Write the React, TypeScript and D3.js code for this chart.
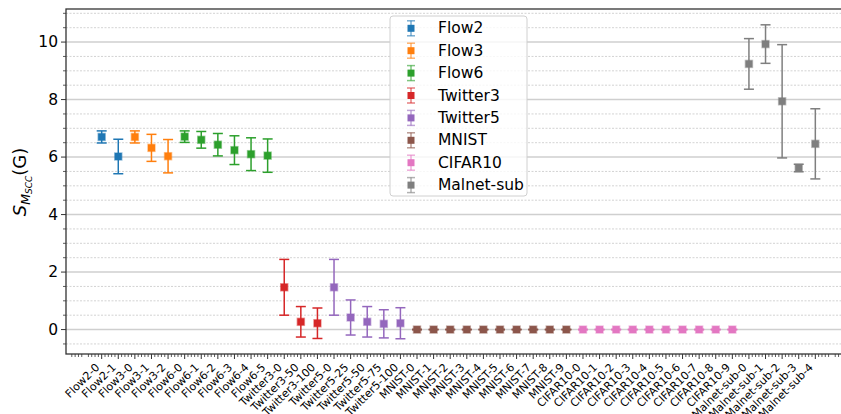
import React from "react";
import * as d3 from "d3";

const seriesNames = ["Flow2", "Flow3", "Flow6", "Twitter3", "Twitter5", "MNIST", "CIFAR10", "Malnet-sub"];
const seriesColors = ["#1f77b4", "#ff7f0e", "#2ca02c", "#d62728", "#9467bd", "#8c564b", "#e377c2", "#7f7f7f"];

const flow2Labels = ["Flow2-0", "Flow2-1"];
const flow2Means = [6.70, 6.02];
const flow2Errs = [0.21, 0.60];

const flow3Labels = ["Flow3-0", "Flow3-1", "Flow3-2"];
const flow3Means = [6.70, 6.32, 6.03];
const flow3Errs = [0.21, 0.47, 0.58];

const flow6Labels = ["Flow6-0", "Flow6-1", "Flow6-2", "Flow6-3", "Flow6-4", "Flow6-5"];
const flow6Means = [6.71, 6.60, 6.43, 6.24, 6.10, 6.05];
const flow6Errs = [0.20, 0.29, 0.39, 0.50, 0.57, 0.58];

const twitter3Labels = ["Twitter3-0", "Twitter3-50", "Twitter3-100"];
const twitter3Means = [1.47, 0.27, 0.22];
const twitter3Errs = [0.97, 0.53, 0.53];

const twitter5Labels = ["Twitter5-0", "Twitter5-25", "Twitter5-50", "Twitter5-75", "Twitter5-100"];
const twitter5Means = [1.47, 0.42, 0.27, 0.20, 0.22];
const twitter5Errs = [0.97, 0.61, 0.53, 0.49, 0.54];

const mnistLabels = ["MNIST-0", "MNIST-1", "MNIST-2", "MNIST-3", "MNIST-4", "MNIST-5", "MNIST-6", "MNIST-7", "MNIST-8", "MNIST-9"];
const mnistMeans = [0, 0, 0, 0, 0, 0, 0, 0, 0, 0];
const mnistErrs = [0.01, 0.01, 0.01, 0.01, 0.01, 0.01, 0.01, 0.01, 0.01, 0.01];

const cifarLabels = ["CIFAR10-0", "CIFAR10-1", "CIFAR10-2", "CIFAR10-3", "CIFAR10-4", "CIFAR10-5", "CIFAR10-6", "CIFAR10-7", "CIFAR10-8", "CIFAR10-9"];
const cifarMeans = [0, 0, 0, 0, 0, 0, 0, 0, 0, 0];
const cifarErrs = [0.01, 0.01, 0.01, 0.01, 0.01, 0.01, 0.01, 0.01, 0.01, 0.01];

const malnetLabels = ["Malnet-sub-0", "Malnet-sub-1", "Malnet-sub-2", "Malnet-sub-3", "Malnet-sub-4"];
const malnetMeans = [9.24, 9.93, 7.94, 5.62, 6.46];
const malnetErrs = [0.88, 0.67, 1.97, 0.13, 1.22];

const yMajorTicks = [0, 2, 4, 6, 8, 10];

const groups = [
  { labels: flow2Labels, means: flow2Means, errs: flow2Errs },
  { labels: flow3Labels, means: flow3Means, errs: flow3Errs },
  { labels: flow6Labels, means: flow6Means, errs: flow6Errs },
  { labels: twitter3Labels, means: twitter3Means, errs: twitter3Errs },
  { labels: twitter5Labels, means: twitter5Means, errs: twitter5Errs },
  { labels: mnistLabels, means: mnistMeans, errs: mnistErrs },
  { labels: cifarLabels, means: cifarMeans, errs: cifarErrs },
  { labels: malnetLabels, means: malnetMeans, errs: malnetErrs },
];

type Pt = { label: string; idx: number; mean: number; err: number; color: string };
const points: Pt[] = [];
groups.forEach((g, gi) => {
  g.labels.forEach((l, i) => {
    points.push({ label: l, idx: points.length, mean: g.means[i], err: g.errs[i], color: seriesColors[gi] });
  });
});

const W = 841, H = 414;
const left = 66, right = 851, top = 9, bottom = 354;
const n = points.length;
const xPad = (n - 1) * 0.05;
const x = d3.scaleLinear().domain([-xPad, n - 1 + xPad]).range([left, right]);
const y = d3.scaleLinear().domain([-0.85, 11.15]).range([bottom, top]);

const FONT = "'DejaVu Sans', sans-serif";

export default function App() {
  const yMinor = d3.range(-0.5, 11.01, 0.5).filter((v) => Math.abs(v % 2) > 1e-6);
  const xMinor = d3.range(Math.ceil(-xPad / 0.2) * 0.2, n - 1 + xPad, 0.2).filter((v) => Math.abs(v - Math.round(v)) > 1e-6);
  const cap = 5;
  const ms = 7;
  return (
    <svg width={W} height={H} style={{ position: "absolute", left: 0, top: 0, background: "#fff" }} fontFamily={FONT}>
      <rect x={0} y={0} width={W} height={H} fill="#fff" />
      {/* minor grid */}
      {yMinor.map((v) => (
        <line key={"gm" + v} x1={left} x2={right} y1={y(v)} y2={y(v)} stroke="#c8c8c8" strokeWidth={0.8} strokeDasharray="2,1.5" />
      ))}
      {yMajorTicks.map((v) => (
        <line key={"gM" + v} x1={left} x2={right} y1={y(v)} y2={y(v)} stroke="#cfcfcf" strokeWidth={1.5} />
      ))}
      {/* error bars */}
      {points.map((p) => {
        const cx = x(p.idx);
        const y1 = y(p.mean + p.err);
        const y0 = y(p.mean - p.err);
        return (
          <g key={p.label}>
            <line x1={cx} x2={cx} y1={y1} y2={y0} stroke={p.color} strokeWidth={1.5} />
            <line x1={cx - cap} x2={cx + cap} y1={y1} y2={y1} stroke={p.color} strokeWidth={1.5} />
            <line x1={cx - cap} x2={cx + cap} y1={y0} y2={y0} stroke={p.color} strokeWidth={1.5} />
            <rect x={cx - ms / 2} y={y(p.mean) - ms / 2} width={ms} height={ms} fill={p.color} stroke={p.color} strokeOpacity={0.45} strokeWidth={1.5} />
          </g>
        );
      })}
      {/* spines */}
      <rect x={left} y={top} width={right - left} height={bottom - top} fill="none" stroke="#333" strokeWidth={1.3} />
      {/* y ticks */}
      {yMajorTicks.map((v) => (
        <g key={"yt" + v}>
          <line x1={left - 5} x2={left} y1={y(v)} y2={y(v)} stroke="#333" strokeWidth={1} />
          <text x={left - 8} y={y(v)} textAnchor="end" dominantBaseline="central" fontSize={15.5} fill="#000">{v}</text>
        </g>
      ))}
      {yMinor.map((v) => (
        <line key={"ytm" + v} x1={left - 3} x2={left} y1={y(v)} y2={y(v)} stroke="#333" strokeWidth={0.8} />
      ))}
      {/* x ticks */}
      {xMinor.map((v, i) => (
        <line key={"xtm" + i} x1={x(v)} x2={x(v)} y1={bottom} y2={bottom + 3} stroke="#333" strokeWidth={0.8} />
      ))}
      {points.map((p) => (
        <g key={"xt" + p.label}>
          <line x1={x(p.idx)} x2={x(p.idx)} y1={bottom} y2={bottom + 5} stroke="#333" strokeWidth={1} />
          <text transform={`translate(${x(p.idx) - 1.5},${368}) rotate(-45)`} textAnchor="end" fontSize={11} fill="#000">{p.label}</text>
        </g>
      ))}
      {/* y label */}
      <text transform={`translate(26,182) rotate(-90)`} textAnchor="middle" fontSize={18} fill="#000">
        <tspan fontStyle="italic">S</tspan>
        <tspan fontStyle="italic" fontSize={12.5} dy={3.5}>M</tspan>
        <tspan fontStyle="italic" fontSize={9} dy={2.5}>SCC</tspan>
        <tspan dy={-6}>(G)</tspan>
      </text>
      {/* legend */}
      <rect x={390} y={16} width={137} height={180} rx={3} fill="#fff" fillOpacity={0.8} stroke="#d0d0d0" strokeWidth={1} />
      {seriesNames.map((s, i) => {
        const cy = 28.3 + i * 22.4;
        const hx = 411;
        const c = seriesColors[i];
        return (
          <g key={"lg" + s}>
            <line x1={hx} x2={hx} y1={cy - 7.5} y2={cy + 7.5} stroke={c} strokeOpacity={0.6} strokeWidth={1.5} />
            <line x1={hx - 4} x2={hx + 4} y1={cy - 7.5} y2={cy - 7.5} stroke={c} strokeOpacity={0.6} strokeWidth={1.5} />
            <line x1={hx - 4} x2={hx + 4} y1={cy + 7.5} y2={cy + 7.5} stroke={c} strokeOpacity={0.6} strokeWidth={1.5} />
            <rect x={hx - 3.5} y={cy - 3.5} width={7} height={7} fill={c} />
            <text x={438} y={cy} dominantBaseline="central" fontSize={15.5} fill="#000">{s}</text>
          </g>
        );
      })}
    </svg>
  );
}
